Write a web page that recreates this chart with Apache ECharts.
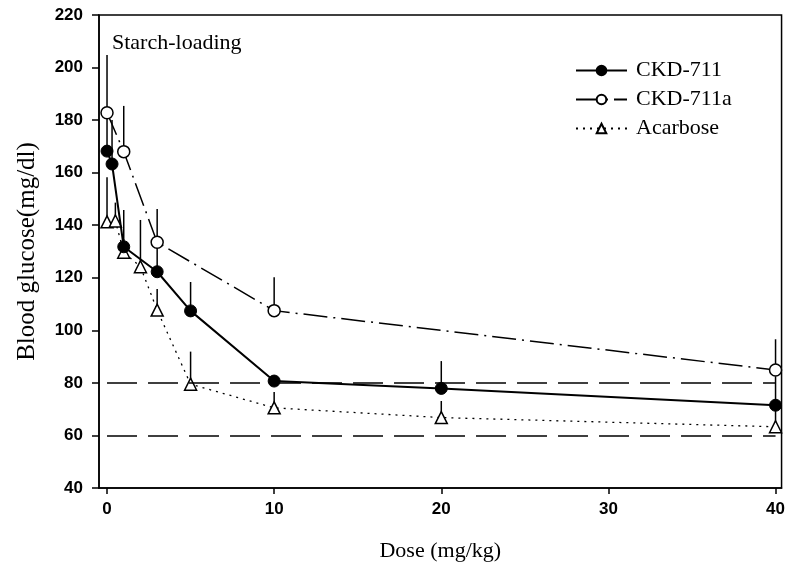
<!DOCTYPE html>
<html>
<head>
<meta charset="utf-8">
<script src="https://cdn.jsdelivr.net/npm/echarts@6/dist/echarts.min.js"></script>
<style>
  html, body { margin: 0; padding: 0; background: #fff; }
  #chart { width: 788px; height: 572px; }
</style>
</head>
<body>
<div id="chart"></div>
<script>
//////////Data
var dose711 = [0, 0.3, 1, 3, 5, 10, 20, 40];
var ckd711 = [168.2, 163.3, 131.8, 122.3, 107.4, 80.7, 77.9, 71.5];
var ckd711Err = [16, 16.7, 14, 10, 11, 2, 10.4, 11];

var dose711a = [0, 1, 3, 10, 40];
var ckd711a = [182.8, 168.0, 133.5, 107.5, 84.9];
var ckd711aErr = [22, 17.4, 12.7, 12.7, 11.7];

var doseAca = [0, 0.5, 1, 2, 3, 5, 10, 20, 40];
var acarbose = [141.3, 141.6, 129.7, 124.2, 107.7, 79.5, 70.5, 66.8, 63.3];
var acarboseErr = [17, 7, 5, 17.8, 8, 12.4, 6, 6.3, 6];

var xTicks = [0, 10, 20, 30, 40];
var refLevels = [80, 60];
var refRange = [0, 40];
//////////

var serif = '"Liberation Serif", "Times New Roman", serif';
var sans = '"Liberation Sans", Arial, sans-serif';

function pairs(xs, ys) {
    var out = [];
    for (var i = 0; i < xs.length; i++) out.push([xs[i], ys[i]]);
    return out;
}

function errData(xs, ys, es) {
    var out = [];
    for (var i = 0; i < xs.length; i++) out.push([xs[i], ys[i], ys[i] + es[i]]);
    return out;
}

//Error bars, upper side only
function errSeries(xs, ys, es) {
    return {
        type: 'custom',
        silent: true,
        z: 1,
        data: errData(xs, ys, es),
        renderItem: function (params, api) {
            var p0 = api.coord([api.value(0), api.value(1)]);
            var p1 = api.coord([api.value(0), api.value(2)]);
            return {
                type: 'line',
                shape: { x1: p0[0], y1: p0[1], x2: p1[0], y2: p1[1] },
                style: { stroke: '#000', lineWidth: 1.5 }
            };
        }
    };
}

var refLines = [];
for (var r = 0; r < refLevels.length; r++) {
    refLines.push([{ coord: [refRange[0], refLevels[r]] }, { coord: [refRange[1], refLevels[r]] }]);
}

var chart = echarts.init(document.getElementById('chart'));

chart.setOption({
    animation: false,
    backgroundColor: '#fff',
    grid: {
        left: 99, right: 6, top: 15, bottom: 84,
        show: true, borderColor: '#000', borderWidth: 1.5, backgroundColor: 'transparent'
    },
    xAxis: {
        type: 'value',
        min: -0.48,
        max: 40.36,
        name: 'Dose (mg/kg)',
        nameLocation: 'middle',
        nameGap: 52,
        nameTextStyle: { fontFamily: serif, fontSize: 22, color: '#000' },
        splitLine: { show: false },
        axisLine: { onZero: false, lineStyle: { color: '#000', width: 1.5 } },
        axisTick: { customValues: xTicks, length: 6, lineStyle: { color: '#000', width: 1.5 } },
        axisLabel: { customValues: xTicks, margin: 13, fontFamily: sans, fontWeight: 'bold', fontSize: 17, color: '#000' }
    },
    yAxis: {
        type: 'value',
        min: 40,
        max: 220,
        interval: 20,
        name: 'Blood glucose(mg/dl)',
        nameLocation: 'middle',
        nameGap: 59,
        nameTextStyle: { fontFamily: serif, fontSize: 25, color: '#000' },
        splitLine: { show: false },
        axisLine: { show: true, onZero: false, lineStyle: { color: '#000', width: 1.5 } },
        axisTick: { show: true, length: 7, lineStyle: { color: '#000', width: 1.5 } },
        axisLabel: { margin: 16, fontFamily: sans, fontWeight: 'bold', fontSize: 17, color: '#000' }
    },
    legend: {
        orient: 'vertical',
        left: 570,
        top: 53,
        itemWidth: 51,
        itemHeight: 12,
        itemGap: 4,
        data: ['CKD-711', 'CKD-711a', 'Acarbose'],
        textStyle: { fontFamily: serif, fontSize: 22, color: '#000', lineHeight: 25, padding: [0, 0, 0, 4] }
    },
    graphic: [{
        type: 'text',
        left: 112,
        top: 32,
        style: { text: 'Starch-loading', font: '22px ' + serif, fill: '#000' }
    }],
    series: [
        errSeries(dose711a, ckd711a, ckd711aErr),
        errSeries(dose711, ckd711, ckd711Err),
        errSeries(doseAca, acarbose, acarboseErr),
        {
            name: 'CKD-711a',
            type: 'line',
            z: 3,
            data: pairs(dose711a, ckd711a),
            symbol: 'circle',
            symbolSize: 12,
            lineStyle: { color: '#000', width: 1.5, type: [24, 6, 2, 6] },
            itemStyle: { color: '#fff', borderColor: '#000', borderWidth: 1.5 }
        },
        {
            name: 'CKD-711',
            type: 'line',
            z: 4,
            data: pairs(dose711, ckd711),
            symbol: 'circle',
            symbolSize: 12,
            lineStyle: { color: '#000', width: 2 },
            itemStyle: { color: '#000', borderColor: '#000', borderWidth: 1 },
            markLine: {
                silent: true,
                symbol: 'none',
                label: { show: false },
                lineStyle: { color: '#000', width: 1.5, type: [30, 11] },
                data: refLines
            }
        },
        {
            name: 'Acarbose',
            type: 'line',
            z: 3,
            data: pairs(doseAca, acarbose),
            symbol: 'triangle',
            symbolSize: 12,
            lineStyle: { color: '#000', width: 1.3, type: [2, 5] },
            itemStyle: { color: '#fff', borderColor: '#000', borderWidth: 1.5 }
        }
    ]
});
</script>
</body>
</html>
